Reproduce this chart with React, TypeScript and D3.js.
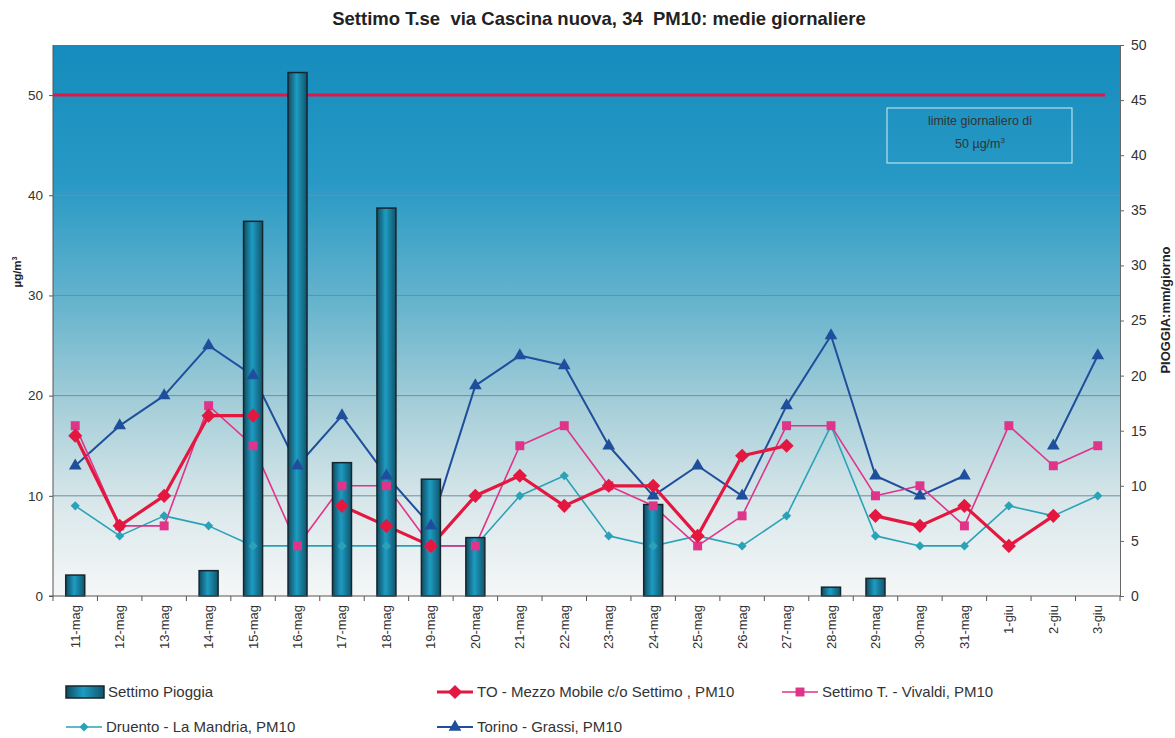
import React, { useEffect, useRef } from 'react';
import * as d3 from 'd3';

// days on the x axis
const days = [
  '11-mag', '12-mag', '13-mag', '14-mag', '15-mag', '16-mag', '17-mag', '18-mag',
  '19-mag', '20-mag', '21-mag', '22-mag', '23-mag', '24-mag', '25-mag', '26-mag',
  '27-mag', '28-mag', '29-mag', '30-mag', '31-mag', '1-giu', '2-giu', '3-giu',
];

// rain, mm/giorno (right axis)
const pioggia = [1.9, 0, 0, 2.3, 34, 47.5, 12.1, 35.2, 10.6, 5.3, 0, 0, 0, 8.3, 0, 0, 0, 0.8, 1.6, 0, 0, 0, 0, 0];

// PM10, µg/m3 (left axis); null = no measure
const mezzoMobile = [16, 7, 10, 18, 18, null, 9, 7, 5, 10, 12, 9, 11, 11, 6, 14, 15, null, 8, 7, 9, 5, 8, null];
const vivaldi = [17, 7, 7, 19, 15, 5, 11, 11, 5, 5, 15, 17, 11, 9, 5, 8, 17, 17, 10, 11, 7, 17, 13, 15];
const druento = [9, 6, 8, 7, 5, 5, 5, 5, 5, 5, 10, 12, 6, 5, 6, 5, 8, 17, 6, 5, 5, 9, 8, 10];
const grassi = [13, 17, 20, 25, 22, 13, 18, 12, 7, 21, 24, 23, 15, 10, 13, 10, 19, 26, 12, 10, 12, null, 15, 24];

const leftTicks = [0, 10, 20, 30, 40, 50];
const rightTicks = [0, 5, 10, 15, 20, 25, 30, 35, 40, 45, 50];
const limite = 50;

const FONT = 'Arial, "Liberation Sans", sans-serif';

export default function App() {
  const svgRef = useRef<SVGSVGElement>(null);

  useEffect(() => {
    const W = 1175, H = 738;
    const left = 53, right = 1120, top = 45, bottom = 596;

    const svg = d3.select(svgRef.current).attr('width', W).attr('height', H);
    svg.selectAll('*').remove();

    const defs = svg.append('defs');
    const bg = defs.append('linearGradient').attr('id', 'bg').attr('x1', 0).attr('y1', 0).attr('x2', 0).attr('y2', 1);
    [['0%', '#158cbd'], ['25%', '#2899c5'], ['48%', '#6ab5cd'], ['66%', '#a7cfd9'], ['84%', '#dbe8eb'], ['100%', '#f5f7f7']]
      .forEach(([o, c]) => bg.append('stop').attr('offset', o).attr('stop-color', c));
    const barG = defs.append('linearGradient').attr('id', 'bar').attr('x1', 0).attr('y1', 0).attr('x2', 1).attr('y2', 0);
    [['0%', '#114a60'], ['45%', '#1d9cc2'], ['100%', '#12546b']]
      .forEach(([o, c]) => barG.append('stop').attr('offset', o).attr('stop-color', c));

    const x = d3.scaleBand().domain(days).range([left, right]);
    const cx = (d: string) => (x(d) as number) + x.bandwidth() / 2;
    const yL = d3.scaleLinear().domain([0, 55]).range([bottom, top]);
    const yR = d3.scaleLinear().domain([0, 50]).range([bottom, top]);

    // title
    svg.append('text')
      .attr('x', 599).attr('y', 25)
      .attr('text-anchor', 'middle')
      .style('font-family', FONT).style('font-size', '18.5px').style('font-weight', 'bold')
      .attr('fill', '#222')
      .attr('xml:space', 'preserve')
      .text('Settimo T.se  via Cascina nuova, 34  PM10: medie giornaliere');

    // plot area
    svg.append('rect')
      .attr('x', left).attr('y', top).attr('width', right - left).attr('height', bottom - top)
      .attr('fill', 'url(#bg)');

    // gridlines
    svg.append('g').selectAll('line')
      .data(leftTicks.filter(t => t > 0 && t < 50))
      .enter().append('line')
      .attr('x1', left).attr('x2', right)
      .attr('y1', d => yL(d)).attr('y2', d => yL(d))
      .attr('stroke', '#6e8f98').attr('stroke-width', 1);

    // limit line
    svg.append('line')
      .attr('x1', left).attr('x2', right - 15)
      .attr('y1', yL(limite)).attr('y2', yL(limite))
      .attr('stroke', '#e0184a').attr('stroke-width', 3);

    // limit label box
    svg.append('rect')
      .attr('x', 887).attr('y', 108).attr('width', 185).attr('height', 55)
      .attr('fill', 'none').attr('stroke', '#d8eef6').attr('stroke-width', 1);
    svg.append('text')
      .attr('x', 980).attr('y', 125).attr('text-anchor', 'middle')
      .style('font-family', FONT).style('font-size', '12.5px').attr('fill', '#333')
      .text('limite giornaliero di');
    const t2 = svg.append('text')
      .attr('x', 980).attr('y', 148).attr('text-anchor', 'middle')
      .style('font-family', FONT).style('font-size', '12.5px').attr('fill', '#333');
    t2.append('tspan').text('50 µg/m');
    t2.append('tspan').attr('dy', -5).style('font-size', '8px').text('3');

    // square rotated 45° for diamond markers
    const diamond = (size: number) => {
      const r = Math.sqrt(size) / Math.SQRT2;
      return `M0,${-r}L${r},0L0,${r}L${-r},0Z`;
    };

    const series = [
      { name: 'Druento - La Mandria, PM10', values: druento, color: '#2aa2b8', width: 1.6, shape: 'diamond', size: 42 },
      { name: 'Torino - Grassi, PM10', values: grassi, color: '#1f4f9c', width: 2, shape: 'triangle', size: 70 },
      { name: 'Settimo T. - Vivaldi, PM10', values: vivaldi, color: '#e0338a', width: 1.6, shape: 'square', size: 80 },
      { name: 'TO - Mezzo Mobile c/o Settimo , PM10', values: mezzoMobile, color: '#e3173f', width: 3.2, shape: 'diamond', size: 100 },
    ];
    const markerPath = (shape: string, size: number) =>
      shape === 'diamond' ? diamond(size)
        : d3.symbol().type(shape === 'triangle' ? d3.symbolTriangle : d3.symbolSquare).size(size)();

    const line = d3.line<number | null>()
      .defined(d => d !== null)
      .x((d, i) => cx(days[i]))
      .y(d => yL(d as number));

    // series lines (under the bars)
    const linesG = svg.append('g');
    series.forEach(s => {
      linesG.append('path')
        .attr('d', line(s.values))
        .attr('fill', 'none')
        .attr('stroke', s.color)
        .attr('stroke-width', s.width)
        .attr('stroke-linejoin', 'round');
    });

    // bars
    const barW = 19;
    svg.append('g').selectAll('rect')
      .data(pioggia.map((v, i) => ({ day: days[i], v })).filter(d => d.v > 0))
      .enter().append('rect')
      .attr('x', d => cx(d.day) - barW / 2)
      .attr('y', d => yR(d.v))
      .attr('width', barW)
      .attr('height', d => bottom - yR(d.v))
      .attr('fill', 'url(#bar)')
      .attr('stroke', '#16262e').attr('stroke-width', 1.5);

    // markers
    series.forEach(s => {
      svg.append('g').selectAll('path')
        .data(s.values.map((v, i) => ({ v, day: days[i] })).filter(d => d.v !== null))
        .enter().append('path')
        .attr('d', markerPath(s.shape, s.size))
        .attr('transform', d => `translate(${cx(d.day)},${yL(d.v as number)})`)
        .attr('fill', s.color);
    });

    // left axis
    const axL = svg.append('g').attr('transform', `translate(${left},0)`)
      .call(d3.axisLeft(yL).tickValues(leftTicks).tickSize(4).tickPadding(6));
    axL.select('.domain').attr('stroke', '#555').attr('d', `M-4,${bottom}H0V${top}`);
    axL.selectAll('line').attr('stroke', '#555');
    axL.selectAll('text').style('font-family', FONT).style('font-size', '13.5px').attr('fill', '#333');

    // right axis
    const axR = svg.append('g').attr('transform', `translate(${right},0)`)
      .call(d3.axisRight(yR).tickValues(rightTicks).tickSize(4).tickPadding(7));
    axR.select('.domain').attr('stroke', '#666');
    axR.selectAll('line').attr('stroke', '#666');
    axR.selectAll('text').style('font-family', FONT).style('font-size', '14px').attr('fill', '#333');

    // bottom axis: ticks between categories
    const axB = svg.append('g');
    axB.append('line').attr('x1', left).attr('x2', right).attr('y1', bottom).attr('y2', bottom)
      .attr('stroke', '#555');
    axB.selectAll('line.tk')
      .data(days.concat(['end']))
      .enter().append('line').attr('class', 'tk')
      .attr('x1', (d, i) => left + i * x.bandwidth()).attr('x2', (d, i) => left + i * x.bandwidth())
      .attr('y1', bottom).attr('y2', bottom + 5)
      .attr('stroke', '#555');
    axB.selectAll('text')
      .data(days)
      .enter().append('text')
      .attr('transform', d => `translate(${cx(d) + 4.5},${bottom + 9}) rotate(-90)`)
      .attr('text-anchor', 'end')
      .style('font-family', FONT).style('font-size', '13px').attr('fill', '#333')
      .text(d => d);

    // axis titles
    const yt = svg.append('text')
      .attr('transform', 'translate(21,272) rotate(-90)')
      .attr('text-anchor', 'middle')
      .style('font-family', FONT).style('font-size', '11.5px').style('font-weight', 'bold').attr('fill', '#222');
    yt.append('tspan').text('µg/m');
    yt.append('tspan').attr('dy', -4).style('font-size', '7px').text('3');

    svg.append('text')
      .attr('transform', 'translate(1170,310) rotate(-90)')
      .attr('text-anchor', 'middle')
      .style('font-family', FONT).style('font-size', '13px').style('font-weight', 'bold').attr('fill', '#222')
      .text('PIOGGIA:mm/giorno');

    // legend
    const lg = svg.append('g');
    const textStyle = (t: d3.Selection<SVGTextElement, unknown, null, undefined>) =>
      t.style('font-family', FONT).style('font-size', '15px').attr('fill', '#333');

    lg.append('rect').attr('x', 66).attr('y', 686).attr('width', 38).attr('height', 12)
      .attr('fill', 'url(#bar)').attr('stroke', '#16262e').attr('stroke-width', 1.5);
    textStyle(lg.append('text').attr('x', 108).attr('y', 697).text('Settimo Pioggia'));

    const legendPos: Record<string, [number, number]> = {
      'TO - Mezzo Mobile c/o Settimo , PM10': [437, 692],
      'Settimo T. - Vivaldi, PM10': [782, 692],
      'Druento - La Mandria, PM10': [66, 727],
      'Torino - Grassi, PM10': [437, 727],
    };
    series.forEach(s => {
      const [lx, ly] = legendPos[s.name];
      lg.append('line').attr('x1', lx).attr('x2', lx + 36).attr('y1', ly).attr('y2', ly)
        .attr('stroke', s.color).attr('stroke-width', s.width);
      lg.append('path').attr('d', markerPath(s.shape, s.size))
        .attr('transform', `translate(${lx + 18},${ly})`).attr('fill', s.color);
      textStyle(lg.append('text').attr('x', lx + 40).attr('y', ly + 5).text(s.name));
    });
  }, []);

  return (
    <svg ref={svgRef} style={{ position: 'absolute', left: 0, top: 0, background: '#fff' }}></svg>
  );
}
